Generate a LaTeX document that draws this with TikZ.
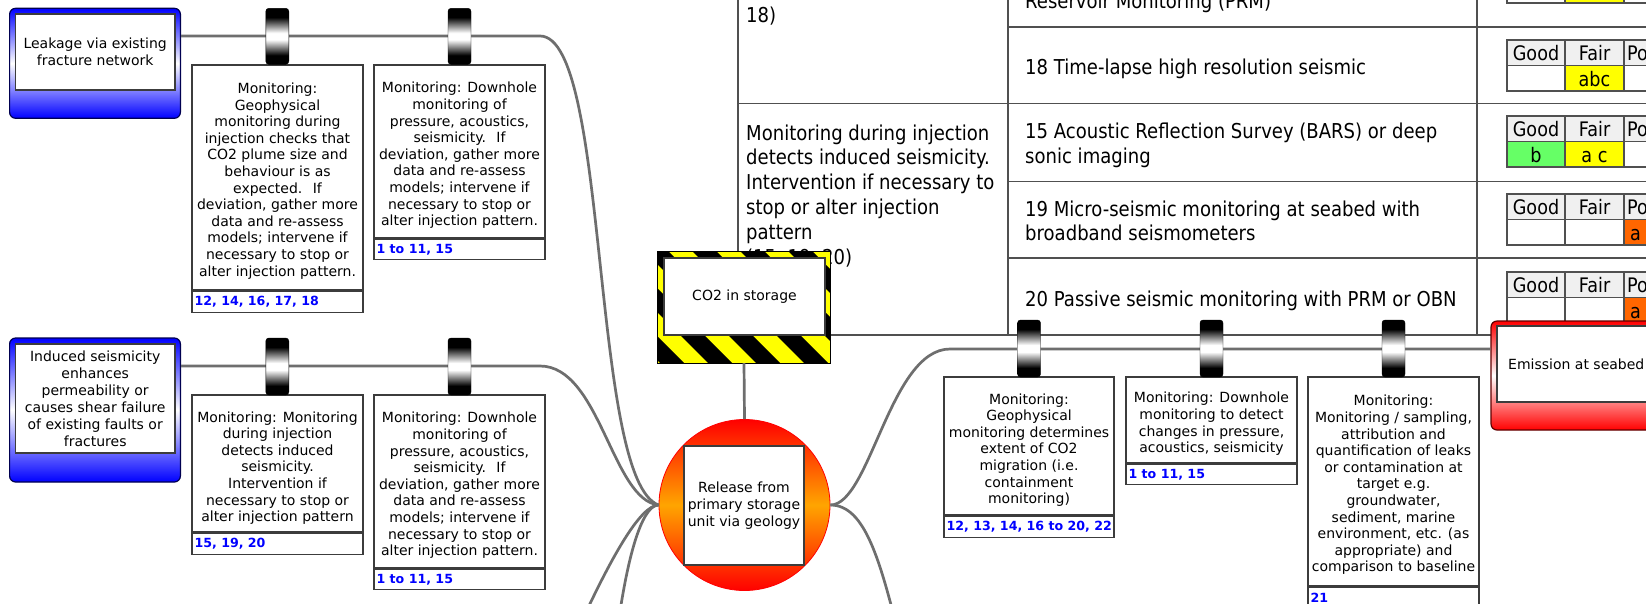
\documentclass[tikz,border=0pt]{standalone}
\usepackage{fontspec}
\setmainfont{DejaVu Sans}
\newfontfamily\tabfont[FakeStretch=0.88]{DejaVu Sans}

\definecolor{wire}{HTML}{6E6E6E}
\definecolor{edge}{HTML}{3C3C3C}
\definecolor{gridgray}{HTML}{505050}
\definecolor{refblue}{HTML}{0000FF}
\definecolor{navyedge}{HTML}{000050}
\definecolor{darkred}{HTML}{600000}
\definecolor{hazard}{HTML}{FFFF00}
\definecolor{goodgreen}{HTML}{66FF66}
\definecolor{fairyellow}{HTML}{FFFF00}
\definecolor{poororange}{HTML}{FF6600}
\definecolor{headgray}{HTML}{F0F0F0}
\definecolor{fireorange}{HTML}{FFA500}

\pgfdeclareverticalshading{pegshade}{100bp}{color(0bp)=(black); color(33bp)=(black); color(47bp)=(white); color(53bp)=(white); color(67bp)=(black); color(100bp)=(black)}

\tikzset{
  wireline/.style={draw=wire, line width=2.7pt},
  gridline/.style={draw=gridgray, line width=1.4pt},
  celline/.style={draw=gridgray, line width=1.1pt},
  tabtext/.style={anchor=base west, inner sep=0pt, font=\tabfont\fontsize{20.5}{25}\selectfont},
  celltext/.style={anchor=base, inner sep=0pt, font=\tabfont\fontsize{20}{24}\selectfont},
  peg/.style={rectangle, rounded corners=3pt, minimum width=23pt, inner sep=0pt, shading=pegshade, draw=black, line width=0.4pt},
  boxframe/.style={rectangle, draw=edge, line width=1.3pt, fill=white, inner sep=0pt},
  montext/.style={align=center, inner sep=0pt, font=\fontsize{14}{16.6}\selectfont},
  reftext/.style={anchor=west, inner sep=0pt, text=refblue, font=\fontsize{12.6}{14}\selectfont\bfseries},
  bluebox/.style={rectangle, rounded corners=6pt, draw=navyedge, line width=1.2pt, top color=blue, bottom color=blue, middle color=white, inner sep=0pt},
  redbox/.style={rectangle, rounded corners=6pt, draw=darkred, line width=1.2pt, top color=red, bottom color=red, middle color=white, inner sep=0pt},
  innerbox/.style={rectangle, draw=edge, line width=1.2pt, fill=white, inner sep=0pt, align=center, font=\fontsize{14}{17}\selectfont},
}

% cells of a Good / Fair / Poor rating grid: #1 top edge, #2-#4 data cell fills
\newcommand\ratingcells[4]{%
  \fill[headgray] (1507,#1) rectangle (1690,{#1+25.5});
  \fill[#2] (1507,{#1+25.5}) rectangle (1565,{#1+51});
  \fill[#3] (1565,{#1+25.5}) rectangle (1624,{#1+51});
  \fill[#4] (1624,{#1+25.5}) rectangle (1690,{#1+51});
  \draw[celline] (1507,#1) rectangle (1690,{#1+51});
  \draw[celline] (1507,{#1+25.5}) -- (1690,{#1+25.5});
  \draw[celline] (1565,#1) -- (1565,{#1+51});
  \draw[celline] (1624,#1) -- (1624,{#1+51});
}
% full rating grid with texts: #1 name, #2 top edge, #3-#5 fills, #6-#8 data texts
\newcommand\ratingtable[8]{%
  \ratingcells{#2}{#3}{#4}{#5}
  \node[celltext] (#1good) at (1536,{#2+20}) {Good};
  \node[celltext] (#1fair) at (1594.5,{#2+20}) {Fair};
  \node[celltext, anchor=base west] (#1poor) at (1627,{#2+20}) {Poor};
  \node[celltext] (#1g) at (1536,{#2+46}) {#6};
  \node[celltext] (#1f) at (1594.5,{#2+46}) {#7};
  \node[celltext, anchor=base west] (#1p) at (1630,{#2+46}) {#8};
}

\begin{document}
\begin{tikzpicture}[x=1pt,y=-1pt]
\useasboundingbox (0,0) rectangle (1646,603);
\clip (0,0) rectangle (1646,603);
\fill[white] (0,0) rectangle (1646,603);

% ---------- risk / technique table ----------
\draw[gridline] (738,-5) -- (738,335) -- (1700,335);
\draw[gridline] (1008,-5) -- (1008,335);
\draw[gridline] (1477,-5) -- (1477,335);
\draw[gridline] (1008,27) -- (1700,27);
\draw[gridline] (738,103.5) -- (1700,103.5);
\draw[gridline] (1008,181.5) -- (1700,181.5);
\draw[gridline] (1008,258) -- (1700,258);

\node[tabtext] (c18) at (746,22) {18)};
\node[tabtext] (ca1) at (746,140) {Monitoring during injection};
\node[tabtext] (ca2) at (746,164.8) {detects induced seismicity.};
\node[tabtext] (ca3) at (746,189.6) {Intervention if necessary to};
\node[tabtext] (ca4) at (746,214.4) {stop or alter injection};
\node[tabtext] (ca5) at (746,239.2) {pattern};
\node[tabtext] (ca6) at (746,264) {(15, 19, 20)};

\node[tabtext] (tprm) at (1025,8) {Reservoir Monitoring (PRM)};
\node[tabtext] (t18) at (1025,74) {18 Time-lapse high resolution seismic};
\node[tabtext] (t15a) at (1025,138.5) {15 Acoustic Reflection Survey (BARS) or deep};
\node[tabtext] (t15b) at (1025,163) {sonic imaging};
\node[tabtext] (t19a) at (1025,216) {19 Micro-seismic monitoring at seabed with};
\node[tabtext] (t19b) at (1025,240.5) {broadband seismometers};
\node[tabtext] (t20) at (1025,306) {20 Passive seismic monitoring with PRM or OBN};

\ratingcells{-48}{white}{fairyellow}{white}
\ratingtable{r18}{40}{white}{fairyellow}{white}{}{abc}{}
\ratingtable{r15}{116}{goodgreen}{fairyellow}{white}{b}{a c}{}
\ratingtable{r19}{194}{white}{white}{poororange}{}{}{a}
\ratingtable{r20}{272}{white}{white}{poororange}{}{}{a}

% ---------- hub nodes ----------
\node[circle, minimum size=171pt, inner sep=0pt, draw=red, line width=0.8pt,
      top color=red, bottom color=red, middle color=fireorange] (rel) at (744.5,505) {};
\node[rectangle, minimum width=172pt, minimum height=111pt, inner sep=0pt, fill=hazard] (co2) at (744,307.5) {};
\begin{scope}
  \clip (co2.north west) rectangle (co2.south east);
  \foreach \c in {249,297,...,585}
    \fill[black] ({\c+252},252) -- ({\c+276},252) -- ({\c+387},363) -- ({\c+363},363) -- cycle;
\end{scope}
\draw[black, line width=1.2pt] (co2.north west) rectangle (co2.south east);

% ---------- connectors ----------
\coordinate (lj1) at (540,36);
\coordinate (lj2) at (540,366);
\coordinate (rj) at (950,349);
\coordinate (ld1) at (580,625);
\coordinate (ld2) at (618,625);
\coordinate (rd) at (900,640);

\node[bluebox, minimum width=170.8pt, minimum height=110pt] (lk1) at (95,63.3) {};
\node[bluebox, minimum width=170.8pt, minimum height=144pt] (lk2) at (95,410) {};
\node[redbox, minimum width=209pt, minimum height=109pt] (emis) at (1595.5,375.5) {};

\draw[wireline] (lk1.east |- lj1) -- (lj1) .. controls (610,36) and (590,480) .. (rel.west);
\draw[wireline] (lk2.east |- lj2) -- (lj2) .. controls (600,366) and (612,500) .. (rel.west);
\draw[wireline] (rel.west) .. controls (640,505) and (610,560) .. (ld1);
\draw[wireline] (rel.west) .. controls (645,505) and (630,540) .. (ld2);
\draw[wireline] (rel.east) .. controls (870,505) and (890,349) .. (rj) -- (rj -| emis.west);
\draw[wireline] (rel.east) .. controls (865,505) and (880,560) .. (rd);
\draw[wireline] (co2.south) -- (rel.north);

% ---------- hazard and event boxes ----------
\node[innerbox, minimum width=161pt, minimum height=77pt] (co2in) at (744.5,296.5) {CO2 in storage};
\node[innerbox, minimum width=120pt, minimum height=119pt] (relin) at (744,505.5)
  {Release from\\primary storage\\unit via geology};
\node[innerbox, minimum width=159.6pt, minimum height=76pt] (lk1in) at (95.2,52)
  {Leakage via existing\\fracture network};
\node[innerbox, minimum width=159.6pt, minimum height=109pt] (lk2in) at (95.2,398.5)
  {Induced seismicity\\enhances\\permeability or\\causes shear failure\\of existing faults or\\fractures};
\node[innerbox, minimum width=203pt, minimum height=76pt] (emisin) at (1598.5,364) {};
\node[anchor=west, inner sep=0pt, font=\fontsize{14}{17}\selectfont] (emist) at (1508,364) {Emission at seabed};

% ---------- barrier (monitoring) boxes ----------
\node[boxframe, minimum width=171pt, minimum height=225pt] (m1) at (277.5,177.5) {};
\node[boxframe, minimum width=171pt, minimum height=21pt, anchor=north] (m1r) at (m1.south) {};
\node[montext] (m1t) at (277.5,181)
  {Monitoring:\\Geophysical\\monitoring during\\injection checks that\\CO2 plume size and\\behaviour is as\\expected.~ If\\deviation, gather more\\data and re-assess\\models; intervene if\\necessary to stop or\\alter injection pattern.};
\node[reftext] (m1rt) at ([xshift=3pt]m1r.west) {12, 14, 16, 17, 18};

\node[boxframe, minimum width=171pt, minimum height=173pt] (m2) at (459.5,151.5) {};
\node[boxframe, minimum width=171pt, minimum height=20pt, anchor=north] (m2r) at (m2.south) {};
\node[montext] (m2t) at (459.5,155.5)
  {Monitoring: Downhole\\monitoring of\\pressure, acoustics,\\seismicity.~ If\\deviation, gather more\\data and re-assess\\models; intervene if\\necessary to stop or\\alter injection pattern.};
\node[reftext] (m2rt) at ([xshift=3pt]m2r.west) {1 to 11, 15};

\node[boxframe, minimum width=171pt, minimum height=137pt] (m3) at (277.5,463.5) {};
\node[boxframe, minimum width=171pt, minimum height=21pt, anchor=north] (m3r) at (m3.south) {};
\node[montext] (m3t) at (277.5,468)
  {Monitoring: Monitoring\\during injection\\detects induced\\seismicity.\\Intervention if\\necessary to stop or\\alter injection pattern};
\node[reftext] (m3rt) at ([xshift=3pt]m3r.west) {15, 19, 20};

\node[boxframe, minimum width=171pt, minimum height=173pt] (m4) at (459.5,481.5) {};
\node[boxframe, minimum width=171pt, minimum height=20pt, anchor=north] (m4r) at (m4.south) {};
\node[montext] (m4t) at (459.5,485.5)
  {Monitoring: Downhole\\monitoring of\\pressure, acoustics,\\seismicity.~ If\\deviation, gather more\\data and re-assess\\models; intervene if\\necessary to stop or\\alter injection pattern.};
\node[reftext] (m4rt) at ([xshift=3pt]m4r.west) {1 to 11, 15};

\node[boxframe, minimum width=170pt, minimum height=138pt] (mA) at (1029,446) {};
\node[boxframe, minimum width=170pt, minimum height=21pt, anchor=north] (mAr) at (mA.south) {};
\node[montext] (mAt) at (1029,450)
  {Monitoring:\\Geophysical\\monitoring determines\\extent of CO2\\migration (i.e.\\containment\\monitoring)};
\node[reftext] (mArt) at ([xshift=3pt]mAr.west) {12, 13, 14, 16 to 20, 22};

\node[boxframe, minimum width=171pt, minimum height=86pt] (mB) at (1211.5,420) {};
\node[boxframe, minimum width=171pt, minimum height=20pt, anchor=north] (mBr) at (mB.south) {};
\node[montext] (mBt) at (1211.5,424)
  {Monitoring: Downhole\\monitoring to detect\\changes in pressure,\\acoustics, seismicity};
\node[reftext] (mBrt) at ([xshift=3pt]mBr.west) {1 to 11, 15};

\node[boxframe, minimum width=171pt, minimum height=209pt] (mC) at (1393.5,481.5) {};
\node[boxframe, minimum width=171pt, minimum height=21pt, anchor=north] (mCr) at (mC.south) {};
\node[montext] (mCt) at (1393.5,485)
  {Monitoring:\\Monitoring / sampling,\\attribution and\\quantification of leaks\\or contamination at\\target e.g.\\groundwater,\\sediment, marine\\environment, etc. (as\\appropriate) and\\comparison to baseline};
\node[reftext] (mCrt) at ([xshift=3pt]mCr.west) {21};

% ---------- pegs holding the barriers on the lines ----------
\node[peg, minimum height=56pt] (p1) at (277.3,36.3) {};
\node[peg, minimum height=56pt] (p2) at (459.5,36.3) {};
\node[peg, minimum height=57pt] (p3) at (277.3,366.5) {};
\node[peg, minimum height=57pt] (p4) at (459.5,366.5) {};
\node[peg, minimum height=57pt] (pA) at (1029,348.5) {};
\node[peg, minimum height=57pt] (pB) at (1211.5,348.5) {};
\node[peg, minimum height=57pt] (pC) at (1393.5,348.5) {};
\end{tikzpicture}
\end{document}
